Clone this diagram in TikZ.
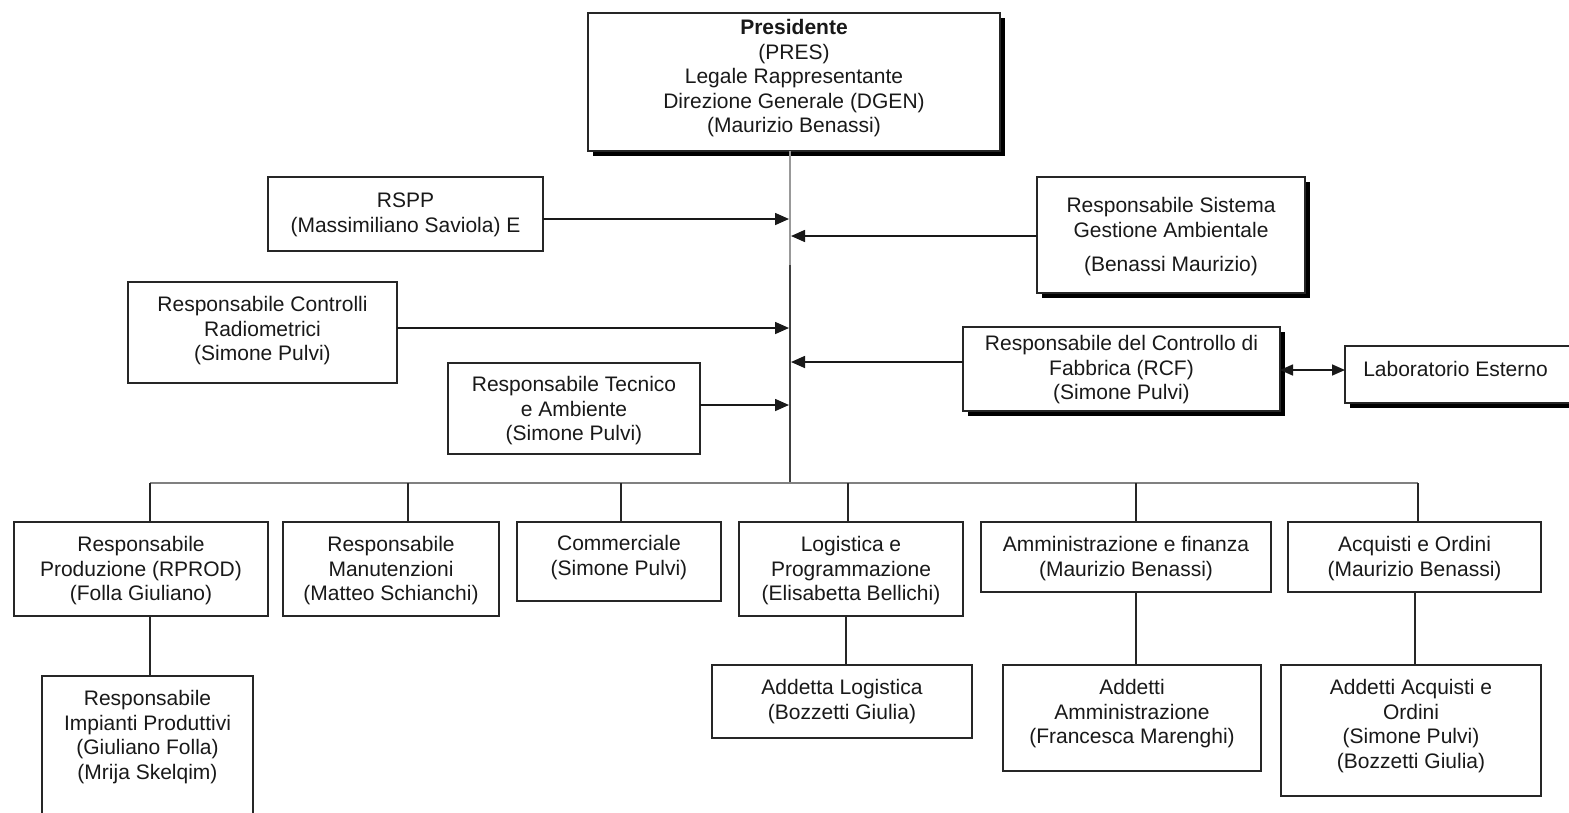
\documentclass[tikz,border=0pt]{standalone}
\usepackage{fontspec}
\setmainfont{Liberation Sans}
\usetikzlibrary{arrows.meta,shadows}
\tikzset{
  box/.style={draw=black!85, line width=1.3pt, fill=white, inner sep=0pt, outer sep=0pt},
  sbox/.style={box, drop shadow={shadow xshift=5pt, shadow yshift=-5pt, fill=black, opacity=1}},
  txt/.style={align=center, inner sep=0pt, outer sep=0pt, text=black!90, font=\fontsize{21}{24.5}\selectfont},
  arr/.style={line width=1.6pt, draw=black!90, -{Triangle[length=14pt,width=12pt]}},
  darr/.style={line width=1.6pt, draw=black!90, {Triangle[length=13pt,width=11pt]}-{Triangle[length=13pt,width=11pt]}},
  link/.style={line width=1.3pt, draw=black!85},
  spinetop/.style={line width=1.8pt, draw=black!40},
  spinebot/.style={line width=1.5pt, draw=black!75},
  busline/.style={line width=1.6pt, draw=black!50},
}
\newcommand\orgbox[8]{%
  \node[#6, minimum width={#4-#2}, minimum height={#5-#3}, anchor=north west] (#1) at (#2,#3) {};
  \node[txt, anchor=north] (#1-t) at ({(#2+#4)/2},{#7-8.5}) {\rule{0pt}{16pt}#8};
}
\begin{document}
\begin{tikzpicture}[x=1pt,y=-1pt]
\clip (0,0) rectangle (1569,812);
\fill[white] (0,0) rectangle (1569,812);

% spine and bus
\coordinate (spmid) at (790,265);
\coordinate (busc) at (790,483);
\coordinate (busl) at (150,483);
\coordinate (busr) at (1418,483);
\coordinate (d1) at (150,483);
\coordinate (d2) at (408,483);
\coordinate (d3) at (621,483);
\coordinate (d4) at (848,483);
\coordinate (d5) at (1136,483);
\coordinate (d6) at (1418,483);

% top
\orgbox{pres}{588}{13}{1000}{151}{sbox}{27}{\textbf{Presidente}\\(PRES)\\Legale Rappresentante\\Direzione Generale (DGEN)\\(Maurizio Benassi)}

\draw[spinetop] (pres.south -| spmid) -- (spmid);
\draw[spinebot] (spmid) -- (busc);
\draw[busline] (busl) -- (busr);

% staff boxes
\orgbox{rspp}{268}{177}{543}{251}{box}{200}{RSPP\\(Massimiliano Saviola) E}
\orgbox{sga}{1037}{177}{1305}{293}{sbox}{205}{Responsabile Sistema\\Gestione Ambientale\\[9.5pt](Benassi Maurizio)}
\orgbox{rcr}{128}{282}{397}{383}{box}{304}{Responsabile Controlli\\Radiometrici\\(Simone Pulvi)}
\orgbox{rcf}{963}{327}{1280}{411}{sbox}{343}{Responsabile del Controllo di\\Fabbrica (RCF)\\(Simone Pulvi)}
\orgbox{lab}{1345}{346}{1590}{403}{sbox}{369}{\hspace*{-24pt}Laboratorio Esterno}
\orgbox{rta}{448}{363}{700}{454}{box}{384}{Responsabile Tecnico\\e Ambiente\\(Simone Pulvi)}

\coordinate (s1) at (789,219);
\coordinate (s2) at (791,236);
\coordinate (s3) at (789,328);
\coordinate (s4) at (791,362);
\coordinate (s5) at (789,405);
\coordinate (s6) at (0,370);

\draw[arr] (rspp.east |- s1) -- (s1);
\draw[arr] (sga.west |- s2) -- (s2);
\draw[arr] (rcr.east |- s3) -- (s3);
\draw[arr] (rcf.west |- s4) -- (s4);
\draw[arr] (rta.east |- s5) -- (s5);
\draw[darr] (rcf.east |- s6) -- (lab.west |- s6);

% first level
\orgbox{prod}{14}{522}{268}{616}{box}{544}{Responsabile\\Produzione (RPROD)\\(Folla Giuliano)}
\orgbox{man}{283}{522}{499}{616}{box}{544}{Responsabile\\Manutenzioni\\(Matteo Schianchi)}
\orgbox{comm}{517}{522}{721}{601}{box}{543}{Commerciale\\(Simone Pulvi)}
\orgbox{log}{739}{522}{963}{616}{box}{544}{Logistica e\\Programmazione\\(Elisabetta Bellichi)}
\orgbox{amm}{981}{522}{1271}{592}{box}{544}{Amministrazione e finanza\\(Maurizio Benassi)}
\orgbox{acq}{1288}{522}{1541}{592}{box}{544}{Acquisti e Ordini\\(Maurizio Benassi)}

\draw[link] (d1) -- (d1 |- prod.north);
\draw[link] (d2) -- (d2 |- man.north);
\draw[link] (d3) -- (d3 |- comm.north);
\draw[link] (d4) -- (d4 |- log.north);
\draw[link] (d5) -- (d5 |- amm.north);
\draw[link] (d6) -- (d6 |- acq.north);

% second level
\orgbox{imp}{42}{676}{253}{830}{box}{698}{Responsabile\\Impianti Produttivi\\(Giuliano Folla)\\(Mrija Skelqim)}
\orgbox{alog}{712}{665}{972}{738}{box}{687}{Addetta Logistica\\(Bozzetti Giulia)}
\orgbox{aamm}{1003}{665}{1261}{771}{box}{687}{Addetti\\Amministrazione\\(Francesca Marenghi)}
\orgbox{aacq}{1281}{665}{1541}{796}{box}{687}{Addetti Acquisti e\\Ordini\\(Simone Pulvi)\\(Bozzetti Giulia)}

\coordinate (e1) at (150,0);
\coordinate (e2) at (846,0);
\coordinate (e3) at (1136,0);
\coordinate (e4) at (1415,0);
\draw[link] (e1 |- prod.south) -- (e1 |- imp.north);
\draw[link] (e2 |- log.south) -- (e2 |- alog.north);
\draw[link] (e3 |- amm.south) -- (e3 |- aamm.north);
\draw[link] (e4 |- acq.south) -- (e4 |- aacq.north);
\end{tikzpicture}
\end{document}
